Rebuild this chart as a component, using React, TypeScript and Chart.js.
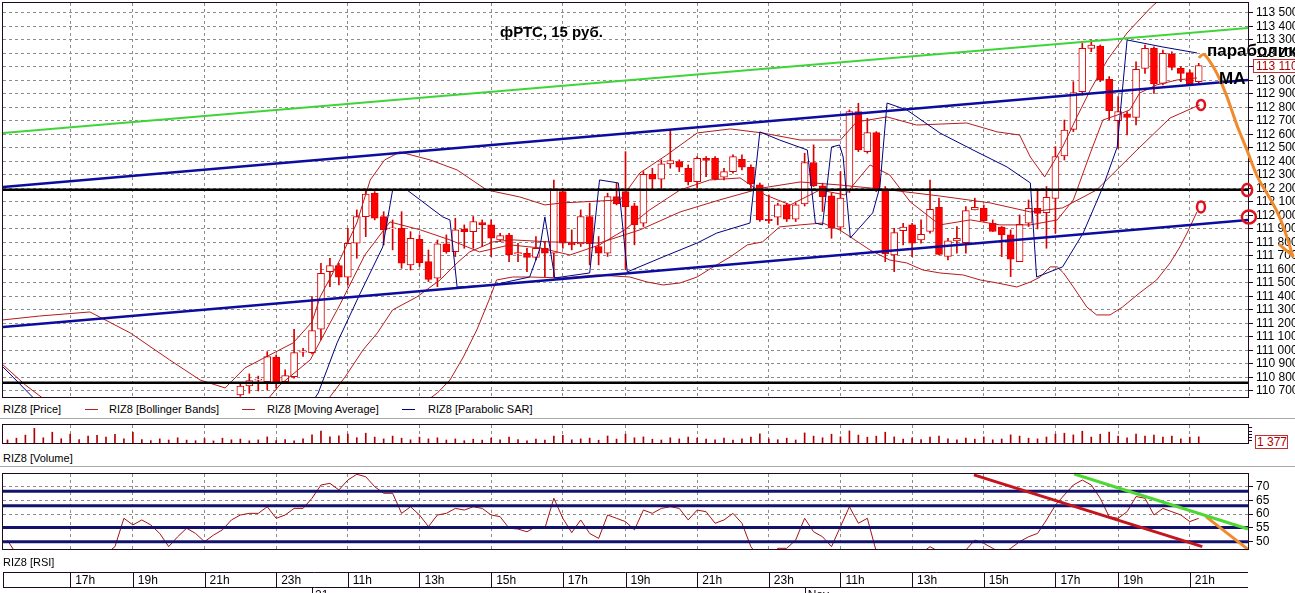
import React, { useEffect, useRef } from 'react';
import { Chart, registerables } from 'chart.js';

Chart.register(...registerables);

const FONT = '"Liberation Sans", Arial, Helvetica, sans-serif';

// ---------- shared time axis (bar index, 15-minute bars) ----------
const X_MIN = -0.5;
const X_MAX = 138.5;
const hourTicks = [7, 14, 22, 30, 38, 46, 54, 62, 69, 77, 85, 93, 101, 109, 117, 124, 132];
const hourLabels = ['17h', '19h', '21h', '23h', '11h', '13h', '15h', '17h', '19h', '21h', '23h', '11h', '13h', '15h', '17h', '19h', '21h'];
const dayTicks = [34, 89];
const dayLabels = ['21', 'Nov'];

// ---------- price panel ----------
const PRICE_MIN = 110655;
const PRICE_MAX = 113574;
const priceTicks = [110700, 110800, 110900, 111000, 111100, 111200, 111300, 111400, 111500, 111600, 111700, 111800, 111900, 112000, 112100, 112200, 112300, 112400, 112500, 112600, 112700, 112800, 112900, 113000, 113100, 113200, 113300, 113400, 113500];

const candleStart = 26;
const candleOpen = [110670, 110737, 110780, 110769, 110950, 110769, 110806, 110988, 110984, 111157, 111584, 111628, 111542, 111794, 111991, 112164, 111991, 111900, 111905, 111634, 111824, 111658, 111535, 111789, 111732, 111897, 111880, 111947, 111930, 111818, 111855, 111715, 111720, 111690, 111757, 111720, 112177, 111794, 111790, 111992, 111770, 111720, 112140, 112177, 112071, 111942, 112305, 112268, 112382, 112399, 112350, 112251, 112424, 112424, 112283, 112325, 112416, 112357, 112226, 111972, 111987, 112078, 111972, 112086, 112392, 112219, 112145, 111913, 112189, 112770, 112473, 112614, 112189, 111708, 111888, 111930, 111819, 111881, 112061, 111696, 111812, 111799, 112041, 112053, 111942, 111913, 111856, 111658, 111942, 112053, 112021, 112127, 112441, 112638, 112917, 113238, 113255, 113008, 112702, 112752, 112727, 113090, 113238, 112979, 113196, 113090, 113058, 112991];
const candleHigh = [110755, 110826, 110810, 110991, 110967, 110856, 111157, 111015, 111399, 111646, 111683, 111646, 111905, 112041, 112189, 112177, 112028, 111967, 112028, 111880, 111856, 111744, 111818, 111856, 111979, 111930, 111992, 111967, 111967, 111868, 111868, 111794, 111757, 111843, 111806, 112263, 112202, 111893, 112041, 112091, 111844, 112165, 112239, 112473, 112091, 112325, 112350, 112412, 112634, 112412, 112374, 112436, 112436, 112436, 112350, 112449, 112449, 112375, 112239, 112152, 112091, 112091, 112091, 112461, 112523, 112239, 112165, 112325, 112782, 112831, 112720, 112621, 112214, 111905, 111942, 111942, 111967, 112263, 112128, 111831, 111918, 112066, 112128, 112078, 111967, 111918, 111893, 112004, 112115, 112189, 112214, 112510, 112707, 112991, 113275, 113300, 113263, 113028, 112880, 112769, 113139, 113263, 113250, 113226, 113213, 113102, 113078, 113127];
const candleLow = [110660, 110683, 110700, 110707, 110720, 110757, 110794, 110955, 110975, 111078, 111473, 111485, 111485, 111683, 111843, 111967, 111781, 111745, 111609, 111596, 111621, 111510, 111473, 111720, 111695, 111757, 111757, 111769, 111695, 111806, 111658, 111658, 111584, 111670, 111547, 111547, 111757, 111745, 111770, 111634, 111634, 111696, 112078, 111597, 111782, 111918, 112189, 112189, 112350, 112325, 112226, 112202, 112288, 112263, 112263, 112313, 112337, 112202, 111955, 111942, 111930, 111955, 111955, 112070, 112214, 112029, 111831, 111893, 112170, 112473, 112461, 112177, 111658, 111584, 111782, 111695, 111794, 111868, 111708, 111671, 111720, 111720, 112041, 111955, 111881, 111695, 111547, 111658, 111918, 111900, 111757, 111868, 112411, 112621, 112892, 113213, 112991, 112707, 112497, 112596, 112670, 113053, 112905, 112967, 113078, 112991, 112967, 112979];
const candleClose = [110735, 110777, 110788, 110954, 110762, 110814, 110984, 110997, 111147, 111572, 111628, 111542, 111794, 111991, 112159, 111979, 111893, 111908, 111646, 111831, 111651, 111527, 111789, 111732, 111893, 111880, 111954, 111930, 111831, 111851, 111707, 111725, 111690, 111757, 111720, 112189, 111794, 111782, 111992, 111790, 111720, 112140, 112086, 112066, 111930, 112305, 112268, 112382, 112407, 112357, 112251, 112424, 112407, 112268, 112325, 112436, 112357, 112234, 111967, 111962, 112078, 111972, 112078, 112392, 112219, 112140, 111905, 112128, 112770, 112486, 112614, 112189, 111715, 111873, 111913, 111794, 111861, 112046, 111712, 111812, 111831, 112036, 112061, 111960, 111881, 111856, 111676, 111935, 112053, 112016, 112135, 112436, 112633, 112910, 113238, 113263, 113004, 112777, 112769, 112727, 113083, 113238, 112974, 113201, 113097, 113053, 112974, 113110];

// indicator lines: [bar index, price]
const bbUpper: [number, number][] = [[-0.5, 111226], [3.6, 111255], [9.2, 111285], [13.7, 111130], [18.1, 110930], [21.5, 110781], [24.3, 110722], [26.5, 110870], [29.3, 110967], [31.9, 111056], [34, 111211], [34.9, 111396], [37.1, 111670], [39, 111944], [40.5, 112263], [42.1, 112411], [43.8, 112470], [47.2, 112411], [50.2, 112337], [53.5, 112189], [57.2, 112137], [60, 112078], [62, 112093], [68.4, 112115], [70.6, 112315], [73.6, 112448], [77, 112611], [80.7, 112641], [84.3, 112611], [88.5, 112559], [93, 112559], [94.8, 112693], [98.2, 112730], [101.5, 112670], [107.1, 112685], [110.5, 112619], [113, 112596], [114.2, 112433], [115.8, 112285], [117.8, 112507], [119.4, 112730], [120.9, 112930], [122.8, 113152], [125, 113352], [127.6, 113537], [129.2, 113633], [132.8, 113670]];
const bbMiddle: [number, number][] = [[32.7, 110411], [36.0, 110656], [37.7, 110804], [39.7, 111004], [41.3, 111130], [43.0, 111300], [45.7, 111396], [48.3, 111522], [50.2, 111648], [51.6, 111730], [54.2, 111804], [56.4, 111819], [60.6, 111804], [66.1, 111796], [70.6, 111893], [75.1, 112026], [79.5, 112115], [84.3, 112204], [88.5, 112248], [92.9, 112226], [98.5, 112189], [104.1, 112144], [109.7, 112093], [114.2, 112026], [117.8, 112056], [121.6, 112189], [126.1, 112485], [129.8, 112722], [133.1, 112819]];
const bbLower: [number, number][] = [[43.8, 110485], [48.0, 110685], [49.4, 110781], [50.9, 110952], [52.4, 111152], [53.9, 111396], [54.6, 111522], [56.4, 111544], [58.3, 111544], [62.0, 111537], [65.8, 111559], [69.5, 111544], [71.4, 111507], [73.2, 111485], [75.1, 111500], [77.0, 111544], [78.8, 111619], [80.7, 111693], [82.6, 111782], [84.3, 111804], [86.2, 111915], [88.5, 111930], [91.0, 111944], [92.9, 111893], [94.1, 111841], [96.3, 111744], [98.5, 111670], [100.4, 111648], [102.2, 111596], [104.1, 111574], [106.7, 111559], [108.6, 111522], [110.5, 111500], [112.7, 111470], [114.2, 111507], [115.3, 111544], [116.4, 111619], [117.2, 111619], [117.9, 111574], [119.0, 111470], [120.5, 111322], [121.6, 111263], [123.1, 111263], [124.5, 111322], [126.4, 111426], [128.3, 111522], [129.8, 111648], [130.9, 111767], [131.7, 111870], [132.8, 112026]];
const maLine: [number, number][] = [[-0.5, 110893], [2.0, 110744], [4.2, 110633], [5.9, 110485], [27.1, 110485], [30.4, 110744], [33.8, 110930], [37.1, 111337], [39.9, 111707], [42.7, 111952], [46.1, 111893], [49.4, 111819], [52.7, 111730], [56.1, 111782], [59.5, 111759], [62.8, 111707], [66.1, 111782], [68.9, 111893], [71.7, 112041], [75.1, 112189], [78.4, 112263], [81.8, 112278], [84.6, 112152], [87.4, 112078], [90.7, 112189], [93.5, 112152], [96.3, 112374], [98.5, 112300], [100.8, 112100], [104.1, 111930], [107.5, 111967], [110.8, 111930], [114.2, 111930], [117.2, 111967], [119.0, 112115], [120.9, 112463], [122.3, 112707], [123.9, 112744], [125.3, 112782], [126.4, 112907], [128.3, 112967], [130.6, 113004], [132.8, 113019]];
const sarLine: [number, number][] = [[-0.5, 110878], [4.2, 110560], [32.7, 110485], [34.7, 110685], [36.8, 111056], [39.4, 111426], [41.9, 111767], [43.0, 112189], [44.6, 112189], [48.6, 111989], [49.4, 111967], [50.2, 111470], [54.2, 111485], [58.3, 111544], [59.4, 111745], [60.0, 111989], [60.6, 111745], [61.1, 111537], [65.0, 111574], [66.1, 112263], [68.2, 112241], [69.2, 111582], [73.2, 111693], [77.0, 111796], [79.2, 111870], [82.9, 111944], [84.0, 112619], [86.2, 112559], [89.3, 112485], [90.2, 111944], [91.0, 111930], [92.0, 112507], [92.9, 112522], [93.3, 112433], [94.1, 111833], [96.6, 112019], [97.4, 112211], [98.2, 112833], [100.4, 112782], [104.1, 112611], [107.8, 112485], [111.6, 112359], [114.2, 112241], [114.9, 111544], [117.8, 111619], [120.1, 111870], [122.3, 112211], [123.9, 112507], [124.2, 112730], [125.0, 113300], [129.0, 113248], [132.8, 113204]];

// hand-drawn annotations on the price panel
const greenChannel: [number, number][] = [[X_MIN, 112611], [X_MAX, 113389]];
const blueUpper: [number, number][] = [[X_MIN, 112211], [X_MAX, 113004]];
const blueLower: [number, number][] = [[X_MIN, 111174], [X_MAX, 111967]];
const blackLevels = [112190, 110760];
const orangeArrow: [number, number][] = [[133.1, 113174], [133.5, 113204], [134.0, 113167], [135.0, 113063], [136.2, 112878], [137.3, 112656], [138.4, 112485], [139.5, 112285], [140.6, 112167], [141.7, 112041], [142.6, 111893], [143.5, 111700]];
const redMarks: [number, number][] = [[133.25, 112819], [133.25, 112063], [138.4, 112189], [138.6, 111989]];
const redMarkSizes: [number, number][] = [[4, 5], [4, 5.5], [5, 6], [7, 6.5]];

// ---------- volume panel ----------
const VOL_MAX = 1800;
const volTicks = [300, 600, 900, 1200, 1500];
const volume = [310, 480, 790, 1460, 520, 1080, 430, 880, 350, 690, 760, 590, 870, 420, 1060, 330, 240, 410, 300, 520, 290, 230, 440, 210, 480, 320, 390, 220, 310, 610, 250, 330, 210, 420, 820, 1190, 610, 720, 880, 530, 980, 590, 410, 690, 480, 320, 590, 410, 520, 300, 410, 230, 380, 290, 480, 310, 590, 330, 220, 390, 300, 690, 780, 320, 410, 490, 280, 700, 390, 880, 520, 610, 380, 300, 520, 410, 590, 480, 400, 310, 500, 290, 410, 590, 920, 410, 330, 480, 300, 1010, 690, 520, 880, 610, 1210, 790, 580, 690, 1080, 610, 400, 480, 330, 590, 700, 420, 310, 490, 380, 610, 320, 400, 810, 690, 480, 410, 600, 890, 980, 810, 1180, 590, 880, 1090, 700, 520, 880, 690, 790, 600, 700, 410, 590, 620];

// ---------- RSI panel ----------
const RSI_MIN = 47.35;
const RSI_MAX = 74.6;
const rsiTicks = [50, 55, 60, 65, 70];
const rsi = [50.5, 45.5, 44.0, 43.2, 44.6, 42.8, 43.9, 45.1, 44.2, 43.0, 44.8, 45.6, 48.2, 58.5, 56.1, 57.9, 56.1, 53.0, 48.2, 51.8, 54.9, 53.0, 50.0, 52.4, 54.3, 57.9, 59.7, 60.3, 60.3, 62.7, 58.5, 59.7, 62.1, 62.1, 65.8, 70.6, 71.2, 68.8, 72.4, 74.5, 73.6, 70.0, 67.6, 67.6, 60.3, 62.7, 59.7, 55.5, 59.7, 60.3, 62.1, 61.5, 62.7, 62.1, 59.7, 59.1, 54.9, 54.6, 53.6, 55.5, 54.9, 65.8, 58.5, 53.3, 57.9, 53.0, 51.2, 59.7, 58.5, 57.3, 54.3, 61.5, 60.3, 62.1, 62.7, 62.1, 57.9, 61.5, 60.9, 56.7, 57.9, 60.3, 56.7, 48.2, 44.0, 44.5, 47.6, 47.6, 50.6, 58.5, 53.6, 51.8, 48.2, 55.5, 62.7, 56.7, 58.5, 46.4, 44.0, 43.2, 42.6, 44.3, 45.8, 48.2, 46.4, 45.2, 45.8, 47.0, 50.6, 49.4, 47.6, 45.8, 47.6, 50.0, 51.8, 53.0, 57.9, 63.3, 67.0, 70.6, 72.4, 70.6, 65.8, 59.1, 58.5, 60.9, 66.4, 65.8, 59.7, 62.1, 60.9, 59.7, 57.3, 58.5];
const rsiLevels = [68.3, 63.1, 55.2, 50];
const rsiRedTrend: [number, number][] = [[107.9, 74.3], [133.4, 48.2]];
const rsiGreenTrend: [number, number][] = [[119.1, 74.6], [138.5, 54.6]];
const rsiOrange: [number, number][] = [[133.8, 59.1], [138.5, 47.2]];

// ---------- helpers ----------
const DARK = '#200820';
const GRID = '#8c8c8c';
const pts = (arr: [number, number][]) => arr.map(([x, y]) => ({ x, y }));
const lineDs = (label: string, data: [number, number][], color: string, width: number, order: number, extra: any = {}) => ({
  type: 'line', label, data: pts(data), borderColor: color, borderWidth: width, pointRadius: 0,
  fill: false, tension: 0, order, ...extra,
});
const fmtPrice = (v: number) => {
  const s = String(Math.round(v));
  return s.slice(0, s.length - 3) + ' ' + s.slice(-3);
};
const xScale = (withGrid: boolean) => ({
  type: 'linear', min: X_MIN, max: X_MAX, offset: false,
  afterBuildTicks: (s: any) => { s.ticks = hourTicks.map((v) => ({ value: v })); },
  afterFit: (s: any) => { s.height = 0; s.paddingLeft = 0; s.paddingRight = 0; },
  ticks: { display: false },
  grid: { display: withGrid, color: GRID, lineWidth: 1, drawTicks: false, offset: false },
  border: { display: false, dash: [3, 3] },
});
const yFit = (s: any) => { s.width = 47; s.paddingTop = 0; s.paddingBottom = 0; };
const baseOptions = {
  responsive: false, animation: false, devicePixelRatio: 1, events: [],
  plugins: { legend: { display: false }, tooltip: { enabled: false } },
};
const framePlugin = {
  id: 'frame',
  afterDatasetsDraw(chart: any) {
    const { ctx, chartArea: a } = chart;
    ctx.save();
    ctx.strokeStyle = DARK;
    ctx.lineWidth = 1;
    ctx.strokeRect(Math.round(a.left) - 0.5, Math.round(a.top) - 0.5, Math.round(a.right - a.left) + 1, Math.round(a.bottom - a.top) + 1);
    ctx.restore();
  },
};
const priceMarksPlugin = {
  id: 'priceMarks',
  afterDraw(chart: any) {
    const { ctx } = chart;
    const xs = chart.scales.x, ys = chart.scales.y;
    const P = orangeArrow.map(([i, p]) => [xs.getPixelForValue(i), ys.getPixelForValue(p)]);
    ctx.save();
    ctx.strokeStyle = '#f08a2c';
    ctx.lineWidth = 3;
    ctx.lineCap = 'round';
    ctx.lineJoin = 'round';
    ctx.beginPath();
    ctx.moveTo(P[0][0], P[0][1]);
    for (let k = 1; k < P.length - 1; k++) {
      const mx = (P[k][0] + P[k + 1][0]) / 2, my = (P[k][1] + P[k + 1][1]) / 2;
      ctx.quadraticCurveTo(P[k][0], P[k][1], mx, my);
    }
    const [ex, ey] = P[P.length - 1];
    ctx.lineTo(ex, ey);
    ctx.stroke();
    ctx.beginPath();
    ctx.moveTo(ex, ey);
    ctx.lineTo(ex - 13, ey - 11);
    ctx.stroke();
    ctx.strokeStyle = '#e0101c';
    ctx.lineWidth = 2.5;
    redMarks.forEach(([i, p], k) => {
      const [rx, ry] = redMarkSizes[k];
      ctx.beginPath();
      ctx.ellipse(xs.getPixelForValue(i), ys.getPixelForValue(p), rx, ry, 0, 0, Math.PI * 2);
      ctx.stroke();
    });
    ctx.restore();
  },
};
const timeRowPlugin = {
  id: 'timeRow',
  afterDraw(chart: any) {
    const { ctx, chartArea: a } = chart;
    const xs = chart.scales.x;
    const top = Math.round(a.top) + 0.5, bot = Math.round(a.bottom) + 0.5;
    ctx.save();
    ctx.strokeStyle = DARK;
    ctx.lineWidth = 1;
    ctx.beginPath();
    ctx.moveTo(a.left, top); ctx.lineTo(a.right, top);
    ctx.moveTo(a.left, bot); ctx.lineTo(a.right, bot);
    ctx.moveTo(Math.round(a.left) + 0.5, top); ctx.lineTo(Math.round(a.left) + 0.5, bot);
    hourTicks.forEach((t) => {
      const x = Math.round(xs.getPixelForValue(t)) + 0.5;
      ctx.moveTo(x, top); ctx.lineTo(x, bot);
    });
    dayTicks.forEach((t) => {
      const x = Math.round(xs.getPixelForValue(t)) + 0.5;
      ctx.moveTo(x, bot); ctx.lineTo(x, chart.height);
    });
    ctx.stroke();
    ctx.fillStyle = '#000';
    ctx.font = `12px ${FONT}`;
    ctx.textAlign = 'left';
    ctx.textBaseline = 'middle';
    hourTicks.forEach((t, k) => ctx.fillText(hourLabels[k], xs.getPixelForValue(t) + 5, (a.top + a.bottom) / 2 + 1));
    ctx.textBaseline = 'top';
    dayTicks.forEach((t, k) => ctx.fillText(dayLabels[k], xs.getPixelForValue(t) + 3, a.bottom + 3));
    ctx.restore();
  },
};

function priceConfig(): any {
  const bodies = candleOpen.map((o, k) => ({ x: candleStart + k, y: [o, candleClose[k]] }));
  const wicks = candleOpen.map((_, k) => ({ x: candleStart + k, y: [candleLow[k], candleHigh[k]] }));
  return {
    type: 'bar',
    data: {
      datasets: [
        lineDs('green', greenChannel, '#3fd43a', 2, 0),
        lineDs('blueUpper', blueUpper, '#0c0c9e', 2.5, 0),
        lineDs('blueLower', blueLower, '#0c0c9e', 2.5, 0),
        ...blackLevels.map((v) => lineDs('level', [[X_MIN, v], [X_MAX, v]], '#000000', 2.5, 0)),
        lineDs('RIZ8 [Parabolic SAR]', sarLine, '#000080', 1, 1),
        lineDs('BB upper', bbUpper, '#b41c1c', 1, 1),
        lineDs('BB middle', bbMiddle, '#b41c1c', 1, 1),
        lineDs('BB lower', bbLower, '#b41c1c', 1, 1),
        lineDs('RIZ8 [Moving Average]', maLine, '#c01818', 1, 1),
        {
          type: 'bar', label: 'body', data: bodies, order: 2, grouped: false, barThickness: 7,
          backgroundColor: candleOpen.map((o, k) => (candleClose[k] >= o ? '#ffffff' : '#ff0000')),
          borderColor: '#e00000', borderWidth: 1, borderSkipped: false,
        },
        {
          type: 'bar', label: 'wick', data: wicks, order: 3, grouped: false, barThickness: 1,
          backgroundColor: '#d80000', borderWidth: 0,
        },
      ],
    },
    options: {
      ...baseOptions,
      layout: { padding: { left: 3, top: 3, right: 0, bottom: 3 } },
      scales: {
        x: xScale(true),
        y: {
          type: 'linear', position: 'right', min: PRICE_MIN, max: PRICE_MAX, beginAtZero: false,
          afterBuildTicks: (s: any) => { s.ticks = priceTicks.map((v) => ({ value: v })); },
          afterFit: yFit,
          ticks: { autoSkip: false, padding: 3, color: '#000', font: { family: FONT, size: 12 }, callback: (v: number) => fmtPrice(v) },
          grid: { color: GRID, drawTicks: true, tickLength: 5, tickColor: DARK, tickBorderDash: [], tickWidth: 1 },
          border: { display: true, color: DARK, width: 1, dash: [3, 3] },
        },
      },
    },
    plugins: [framePlugin, priceMarksPlugin],
  };
}

function volumeConfig(): any {
  return {
    type: 'bar',
    data: {
      datasets: [{
        type: 'bar', label: 'RIZ8 [Volume]', data: volume.map((v, i) => ({ x: i, y: v })),
        backgroundColor: '#b00000', barThickness: 1, grouped: false,
      }],
    },
    options: {
      ...baseOptions,
      layout: { padding: { left: 3, top: 5, right: 0, bottom: 7 } },
      scales: {
        x: xScale(true),
        y: {
          type: 'linear', position: 'right', min: 0, max: VOL_MAX,
          afterBuildTicks: (s: any) => { s.ticks = volTicks.map((v) => ({ value: v })); },
          afterFit: yFit,
          ticks: { display: false },
          grid: { color: 'rgba(0,0,0,0)', drawTicks: true, tickLength: 4, tickColor: DARK, tickBorderDash: [] },
          border: { display: true, color: DARK, width: 1 },
        },
      },
    },
    plugins: [framePlugin],
  };
}

function rsiConfig(): any {
  return {
    type: 'line',
    data: {
      datasets: [
        lineDs('red trend', rsiRedTrend, '#c4141c', 3, 0, { clip: false }),
        lineDs('green trend', rsiGreenTrend, '#4fd834', 3, 0, { clip: false }),
        lineDs('orange', rsiOrange, '#f08a2c', 3, 0, { clip: false }),
        ...rsiLevels.map((v) => lineDs('level', [[X_MIN, v], [X_MAX, v]], '#13136e', 3, 1)),
        { type: 'line', label: 'RIZ8 [RSI]', data: rsi.map((v, i) => ({ x: i, y: v })), borderColor: '#a81010', borderWidth: 1, pointRadius: 0, fill: false, tension: 0, order: 2 },
      ],
    },
    options: {
      ...baseOptions,
      layout: { padding: { left: 3, top: 4, right: 0, bottom: 3 } },
      scales: {
        x: xScale(true),
        y: {
          type: 'linear', position: 'right', min: RSI_MIN, max: RSI_MAX,
          afterBuildTicks: (s: any) => { s.ticks = rsiTicks.map((v) => ({ value: v })); },
          afterFit: yFit,
          ticks: { autoSkip: false, padding: 3, color: '#000', font: { family: FONT, size: 12 } },
          grid: { color: GRID, drawTicks: true, tickLength: 5, tickColor: DARK, tickBorderDash: [], tickWidth: 1 },
          border: { display: true, color: DARK, width: 1, dash: [3, 3] },
        },
      },
    },
    plugins: [framePlugin],
  };
}

function timeConfig(): any {
  return {
    type: 'line',
    data: { datasets: [] },
    options: {
      ...baseOptions,
      layout: { padding: { left: 3, top: 6, right: 47, bottom: 6 } },
      scales: {
        x: xScale(false),
        y: { display: false, min: 0, max: 1 },
      },
    },
    plugins: [timeRowPlugin],
  };
}

const txt = (left: number, top: number, size = 11): React.CSSProperties => ({
  position: 'absolute', left, top, fontSize: size, lineHeight: '13px', whiteSpace: 'nowrap', color: '#000',
});
const dash = (left: number, color: string): React.CSSProperties => ({
  position: 'absolute', left, top: 409, width: 13, height: 1, background: color,
});

export default function App() {
  const priceRef = useRef<HTMLCanvasElement>(null);
  const volRef = useRef<HTMLCanvasElement>(null);
  const rsiRef = useRef<HTMLCanvasElement>(null);
  const timeRef = useRef<HTMLCanvasElement>(null);

  useEffect(() => {
    const charts: Chart[] = [];
    charts.push(new Chart(priceRef.current as HTMLCanvasElement, priceConfig()));
    charts.push(new Chart(volRef.current as HTMLCanvasElement, volumeConfig()));
    charts.push(new Chart(rsiRef.current as HTMLCanvasElement, rsiConfig()));
    charts.push(new Chart(timeRef.current as HTMLCanvasElement, timeConfig()));
    return () => charts.forEach((c) => c.destroy());
  }, []);

  const canvasStyle = (top: number, height: number): React.CSSProperties => ({
    position: 'absolute', left: 0, top, width: 1295, height,
  });

  return (
    <div style={{ position: 'absolute', left: 0, top: 0, width: 1295, height: 593, overflow: 'hidden', background: '#ffffff', fontFamily: FONT }}>
      <canvas ref={priceRef} width={1295} height={400} style={canvasStyle(0, 400)} />
      <canvas ref={volRef} width={1295} height={30} style={canvasStyle(420, 30)} />
      <canvas ref={rsiRef} width={1295} height={82} style={canvasStyle(470, 82)} />
      <canvas ref={timeRef} width={1295} height={27} style={canvasStyle(566, 27)} />

      <div style={{ ...txt(500, 23, 15), lineHeight: '18px', fontWeight: 'bold' }}>фРТС, 15 руб.</div>
      <div style={{ ...txt(1207, 41, 17), lineHeight: '20px', fontWeight: 'bold' }}>параболик</div>
      <div style={{ ...txt(1219, 69, 17), lineHeight: '20px', fontWeight: 'bold' }}>МА</div>

      <div style={{ position: 'absolute', left: 1253, top: 59, width: 48, height: 12, border: '1px solid #c03030', background: '#fff', color: '#b00000', fontSize: 12, lineHeight: '12px', paddingLeft: 2, whiteSpace: 'nowrap' }}>113 110</div>
      <div style={{ position: 'absolute', left: 1255, top: 435, width: 30, height: 12, border: '1px solid #c03030', background: '#fff', color: '#b00000', fontSize: 12, lineHeight: '12px', paddingLeft: 1, whiteSpace: 'nowrap' }}>1 377</div>

      <div style={txt(3, 403)}>RIZ8 [Price]</div>
      <div style={dash(85, '#b42020')} />
      <div style={txt(109, 403)}>RIZ8 [Bollinger Bands]</div>
      <div style={dash(242, '#b42020')} />
      <div style={txt(267, 403)}>RIZ8 [Moving Average]</div>
      <div style={dash(402, '#000080')} />
      <div style={txt(428, 403)}>RIZ8 [Parabolic SAR]</div>
      <div style={{ position: 'absolute', left: 0, top: 418, width: 1295, height: 1, background: '#a8a8a8' }} />

      <div style={txt(3, 452)}>RIZ8 [Volume]</div>
      <div style={{ position: 'absolute', left: 0, top: 466, width: 1295, height: 1, background: '#a8a8a8' }} />

      <div style={txt(3, 556)}>RIZ8 [RSI]</div>
    </div>
  );
}
